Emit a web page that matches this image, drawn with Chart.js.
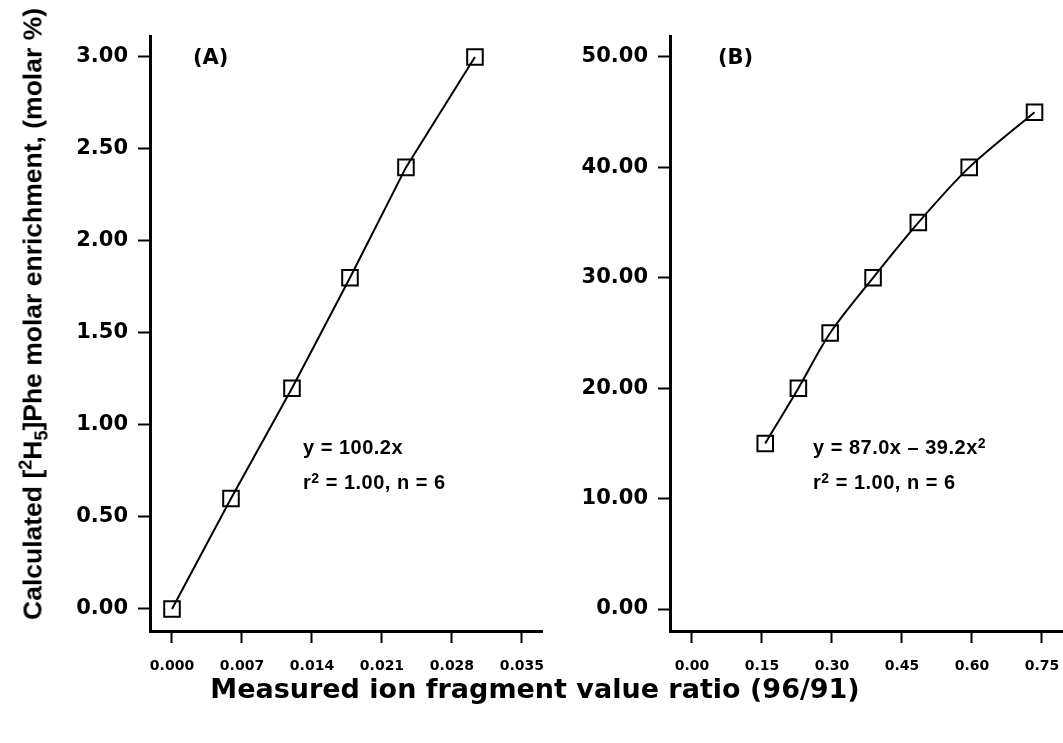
<!DOCTYPE html>
<html>
<head>
<meta charset="utf-8">
<script src="https://cdn.jsdelivr.net/npm/chart.js@4.4.1/dist/chart.umd.min.js"></script>
<style>
  body { margin: 0; background: #fff; }
  #wrap { position: relative; width: 1063px; height: 743px; overflow: hidden; }
  canvas { position: absolute; top: 0; }
  #chartA { left: 0; }
  #chartB { left: 540px; }
  .txt { position: absolute; color: #000; font-weight: bold; white-space: nowrap; }
  .arial { font-family: "Liberation Sans", Arial, sans-serif; }
  .dejavu { font-family: "DejaVu Sans", sans-serif; }
  .note { font-size: 20px; line-height: 35px; letter-spacing: 0.5px; }
  .note sup { font-size: 0.7em; line-height: 0; vertical-align: 0.45em; }
  #ytitle { left: 33px; top: 314px; font-size: 26.5px; transform: translate(-50%, -50%) rotate(-90deg); }
  #ytitle sup, #ytitle sub { font-size: 0.68em; line-height: 0; }
  #xtitle { left: 535px; top: 688px; font-size: 27px; transform: translate(-50%, -50%); }
  .panel { font-size: 21px; line-height: 24px; top: 45px; }
</style>
</head>
<body>
<div id="wrap">
  <canvas id="chartA" width="560" height="743"></canvas>
  <canvas id="chartB" width="560" height="743"></canvas>

  <div id="ytitle" class="txt arial">Calculated [<sup>2</sup>H<sub>5</sub>]Phe molar enrichment, (molar %)</div>
  <div id="xtitle" class="txt dejavu">Measured ion fragment value ratio (96/91)</div>

  <div class="txt dejavu panel" style="left:193px">(A)</div>
  <div class="txt dejavu panel" style="left:718px">(B)</div>

  <div class="txt arial note" style="left:303px; top:430px">y = 100.2x<br>r<sup>2</sup> = 1.00, n = 6</div>
  <div class="txt arial note" style="left:813px; top:430px">y = 87.0x &ndash; 39.2x<sup>2</sup><br>r<sup>2</sup> = 1.00, n = 6</div>
</div>

<script>
// panel A: low enrichment
const ratioA = [0, 0.0059, 0.0120, 0.0178, 0.0234, 0.0303];
const enrichA = [0, 0.6, 1.2, 1.8, 2.4, 3.0];
const xTicksA = [0, 0.007, 0.014, 0.021, 0.028, 0.035];
const yTicksA = [0, 0.5, 1.0, 1.5, 2.0, 2.5, 3.0];

// panel B: high enrichment
const ratioB = [0.157, 0.228, 0.296, 0.388, 0.485, 0.594, 0.734];
const enrichB = [15, 20, 25, 30, 35, 40, 45];
const xTicksB = [0, 0.15, 0.30, 0.45, 0.60, 0.75];
const yTicksB = [0, 10, 20, 30, 40, 50];

Chart.defaults.color = '#000';
Chart.defaults.animation = false;

function makePanel(id, xs, ys, xTicks, yTicks, opt) {
    const ctx = document.getElementById(id).getContext('2d');
    const pts = xs.map((x, i) => ({ x: x, y: ys[i] }));

    const axisBase = {
        border: { display: true, color: '#000', width: 3 },
        grid: {
            drawOnChartArea: false,
            drawTicks: true,
            tickLength: 12,
            tickWidth: 2,
            tickColor: '#000'
        }
    };

    return new Chart(ctx, {
        type: 'scatter',
        data: {
            datasets: [{
                data: pts,
                showLine: true,
                borderColor: '#000',
                borderWidth: 2,
                tension: opt.tension,
                pointStyle: 'rect',
                pointRadius: 11,
                pointBorderWidth: 2,
                pointBorderColor: '#000',
                pointBackgroundColor: 'rgba(0,0,0,0)'
            }]
        },
        options: {
            responsive: false,
            devicePixelRatio: 1,
            layout: { padding: { top: 36, right: opt.padRight, bottom: 0, left: 0 } },
            plugins: { legend: { display: false }, tooltip: { enabled: false } },
            scales: {
                x: {
                    type: 'linear',
                    min: opt.xMin,
                    max: opt.xMax,
                    ...axisBase,
                    afterBuildTicks: (s) => { s.ticks = xTicks.map(v => ({ value: v })); },
                    afterFit: (s) => { s.height = 112; },
                    ticks: {
                        padding: 15,
                        maxRotation: 0,
                        font: { family: 'DejaVu Sans', weight: 'bold', size: 14 },
                        callback: (v) => Number(v).toFixed(opt.xDigits)
                    }
                },
                y: {
                    type: 'linear',
                    min: opt.yMin,
                    max: opt.yMax,
                    ...axisBase,
                    afterBuildTicks: (s) => { s.ticks = yTicks.map(v => ({ value: v })); },
                    afterFit: (s) => { s.width = opt.yWidth; },
                    ticks: {
                        padding: 10,
                        font: { family: 'DejaVu Sans', weight: 'bold', size: 21 },
                        callback: (v) => Number(v).toFixed(2)
                    }
                }
            }
        }
    });
}

makePanel('chartA', ratioA, enrichA, xTicksA, yTicksA, {
    xMin: -0.0022, xMax: 0.0371, yMin: -0.1196, yMax: 3.114,
    xDigits: 3, yWidth: 150, padRight: 17, tension: 0
});

// canvas B runs past the page edge so the x axis reaches the right border
makePanel('chartB', ratioB, enrichB, xTicksB, yTicksB, {
    xMin: -0.0471, xMax: 0.795, yMin: -1.99, yMax: 51.9,
    xDigits: 2, yWidth: 130, padRight: 37, tension: 0.3
});
</script>
</body>
</html>
